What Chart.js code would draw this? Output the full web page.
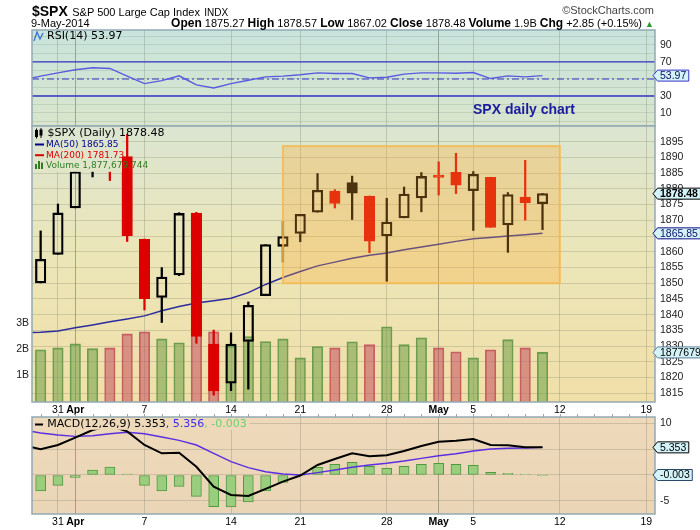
<!DOCTYPE html>
<html><head><meta charset="utf-8">
<script src="https://cdn.jsdelivr.net/npm/chart.js@4.4.1/dist/chart.umd.min.js"></script>
<style>
html,body{margin:0;padding:0;background:#fff}
body{width:700px;height:530px;position:relative;overflow:hidden;font-family:'Liberation Sans',Arial,sans-serif;color:#000}
.layer{position:absolute;left:0;top:0;width:700px;height:530px}
.hdr{position:absolute;white-space:nowrap;line-height:1}
</style></head><body>
<div class="layer"><canvas id="rsiC" width="700" height="530"></canvas></div>
<div class="layer"><canvas id="priceC" width="700" height="530"></canvas></div>
<div class="layer"><canvas id="macdC" width="700" height="530"></canvas></div>
<div class="hdr" style="left:32px;top:3px"><b style="font-size:14px">$SPX</b> <span style="font-size:11px">S&amp;P 500 Large Cap Index</span> <span style="font-size:10px">INDX</span></div>
<div class="hdr" style="right:46px;top:5px;font-size:11px;color:#444">&copy;StockCharts.com</div>
<div class="hdr" style="left:31px;top:18px;font-size:11px">9-May-2014</div>
<div class="hdr" style="right:46px;top:17px;font-size:11px"><b style="font-size:12px">Open</b> 1875.27 <b style="font-size:12px">High</b> 1878.57 <b style="font-size:12px">Low</b> 1867.02 <b style="font-size:12px">Close</b> 1878.48 <b style="font-size:12px">Volume</b> 1.9B <b style="font-size:12px">Chg</b> +2.85 (+0.15%) <span style="color:#2a9a2a;font-size:9px">&#9650;</span></div>
<div class="hdr" style="left:473px;top:102px;font-size:14px;font-weight:bold;color:#1b1b9e">SPX daily chart</div>
<script>
// ---------------- data ----------------
const tradingDays = ['Mar 28','Mar 31','Apr 1','Apr 2','Apr 3','Apr 4','Apr 7','Apr 8','Apr 9','Apr 10','Apr 11','Apr 14','Apr 15','Apr 16','Apr 17','Apr 21','Apr 22','Apr 23','Apr 24','Apr 25','Apr 28','Apr 29','Apr 30','May 1','May 2','May 5','May 6','May 7','May 8','May 9'];
const priorClose = 1849.04;
const opens  = [1850.07,1859.16,1873.96,1886.61,1891.43,1890.25,1863.92,1845.48,1852.64,1872.28,1830.65,1818.18,1831.45,1846.01,1861.73,1865.79,1872.57,1879.32,1881.97,1877.72,1865.00,1870.78,1877.10,1884.39,1885.30,1879.45,1883.69,1868.53,1877.39,1875.27];
const highs  = [1866.63,1875.18,1885.84,1893.17,1893.80,1897.28,1864.04,1854.95,1872.43,1872.53,1835.07,1834.19,1844.02,1862.31,1869.63,1871.89,1884.89,1879.75,1884.06,1877.72,1877.01,1880.60,1885.20,1888.59,1891.33,1885.51,1883.69,1878.83,1889.07,1878.57];
const lows   = [1850.07,1859.16,1873.96,1883.79,1882.65,1863.26,1841.48,1837.49,1852.38,1830.87,1814.36,1815.80,1816.29,1846.01,1856.72,1863.18,1872.57,1873.91,1870.24,1859.70,1850.61,1870.78,1872.69,1878.04,1878.50,1866.77,1867.72,1859.79,1870.05,1867.02];
const closes = [1857.62,1872.34,1885.52,1890.90,1888.77,1865.09,1845.04,1851.96,1872.18,1833.08,1815.69,1830.61,1842.98,1862.31,1864.85,1871.89,1879.55,1875.39,1878.61,1863.40,1869.43,1878.33,1883.95,1883.68,1881.14,1884.66,1867.72,1878.21,1875.63,1878.48];
const volumeB = [1.98,2.05,2.20,2.02,2.05,2.58,2.66,2.39,2.24,2.85,2.66,2.11,2.48,2.29,2.39,1.67,2.10,2.05,2.28,2.17,2.85,2.17,2.43,2.05,1.90,1.67,1.98,2.36,2.05,1.877679744];
// line series start one session earlier (Mar 27) so they run in from the left edge
const lineDays = ['Mar 27'].concat(tradingDays);
const ma50 = [1834.2,1834.4,1834.8,1835.8,1836.7,1837.7,1838.6,1839.6,1841.2,1842.6,1843.7,1844.4,1845.2,1847.0,1849.6,1851.8,1853.7,1855.5,1856.7,1857.9,1858.9,1859.6,1860.6,1861.5,1862.4,1863.3,1864.1,1864.5,1865.0,1865.4,1865.85];
const rsi14 = [49.1,53.3,57.2,60.8,63.2,62.4,53.3,44.6,48.1,53.7,43.0,39.4,44.6,48.5,52.5,53.3,54.9,57.2,56.4,56.4,51.3,52.1,55.7,57.2,57.2,56.8,57.6,50.5,53.7,52.5,53.97];
const macdLine = [5.81,4.98,5.81,7.23,8.72,9.55,8.46,5.81,4.20,4.33,1.60,-2.26,-3.88,-4.07,-2.70,-1.29,-0.10,1.94,3.10,4.20,3.62,3.81,4.65,5.62,6.46,6.65,6.98,5.81,5.75,5.37,5.353];
const signalLine = [8.70,8.14,7.75,7.49,7.62,8.00,8.27,8.00,7.36,6.72,5.81,4.20,2.58,1.42,0.64,0.19,0.00,0.45,0.97,1.49,1.94,2.27,2.71,3.23,3.74,4.13,4.65,5.04,5.17,5.23,5.356];
const macdHist = [-3.10,-2.00,-0.45,0.97,1.55,0.19,-2.00,-3.10,-2.20,-4.13,-6.14,-6.20,-5.23,-3.10,-1.45,-0.10,1.49,2.07,2.46,1.68,1.29,1.68,2.07,2.26,2.07,1.87,0.52,0.32,0.06,-0.003];
const tickIdx = [1,2,6,11,15,20,23,25,30,35];
const tickLabels = ['31','Apr','7','14','21','28','May','5','12','19'];
const monthLabels = ['Apr','May'];
const priceTicks = [1815,1820,1825,1830,1835,1840,1845,1850,1855,1860,1865,1870,1875,1880,1885,1890,1895];
const volumeTicks = [1,2,3];
const rsiTicks = [0,10,20,30,40,50,60,70,80,90,100];
const rsiLabelled = [10,30,50,70,90];
const macdTicks = [-5,0,5,10];
const macdLabelled = [-5,0,5,10];
const boxRange = {fromIdx:14, toIdx:30, low:1850, high:1893.6};

// ---------------- helpers ----------------
const sessions = tradingDays.map((_, i) => i);
const linePts = vals => vals.map((v, i) => ({x: i - 1, y: v}));
const upDay = closes.map((c, i) => c >= (i ? closes[i - 1] : priorClose));
const candleColor = upDay.map(u => u ? '#000000' : '#dd0000');
const hollow = closes.map((c, i) => c > opens[i]);
const AX_FONT = 'Liberation Sans';
const LEG_FONT = '"DejaVu Sans"';
const panelBorder = '#93a9b3';

function xScale(showLabels, height) {
  return {
    type: 'linear', min: -0.5, max: 35.5, offset: false,
    afterBuildTicks: s => { s.ticks = tickIdx.map(v => ({value: v})); },
    afterFit: s => { s.height = height; },
    ticks: {
      display: showLabels, autoSkip: false, maxRotation: 0, minRotation: 0, padding: 2, color: '#000',
      font: c => ({family: AX_FONT, size: 10.5,
        weight: (c.tick && monthLabels.includes(tickLabels[tickIdx.indexOf(c.tick.value)])) ? 'bold' : 'normal'}),
      callback: v => tickLabels[tickIdx.indexOf(v)]
    },
    grid: {
      offset: false, drawTicks: false, lineWidth: 1,
      color: c => (c.tick && monthLabels.includes(tickLabels[tickIdx.indexOf(c.tick.value)])) ? 'rgba(105,115,95,0.55)' : 'rgba(125,135,115,0.33)'
    },
    border: {display: false}
  };
}
function yScale(pos, min, max, ticks, labelFn, gridColor, width) {
  return {
    type: 'linear', position: pos, min, max, beginAtZero: false,
    afterBuildTicks: s => { s.ticks = ticks.map(v => ({value: v})); },
    afterFit: s => { s.width = width; },
    ticks: {autoSkip: false, padding: pos === 'right' ? 5 : 3, color: '#222',
      font: {family: AX_FONT, size: 10.5}, callback: labelFn},
    grid: {drawTicks: false, color: gridColor, lineWidth: 1, display: !!gridColor},
    border: {display: false}
  };
}
function grad(ctx, a, stops) {
  const g = ctx.createLinearGradient(0, a.top, 0, a.bottom);
  stops.forEach(s => g.addColorStop(s[0], s[1]));
  return g;
}
function drawCallout(ctx, y, c) {
  ctx.save();
  ctx.font = c.font || ('10.5px "' + AX_FONT + '"');
  const w = ctx.measureText(c.text).width;
  const tip = 653, x1 = 657.5, h = 11, x2 = x1 + w + 5;
  ctx.beginPath();
  ctx.moveTo(tip, y); ctx.lineTo(x1, y - h / 2); ctx.lineTo(x2, y - h / 2);
  ctx.lineTo(x2, y + h / 2); ctx.lineTo(x1, y + h / 2); ctx.closePath();
  ctx.fillStyle = '#d3f3f8'; ctx.fill();
  ctx.lineWidth = 1; ctx.strokeStyle = c.border; ctx.stroke();
  ctx.fillStyle = c.color || '#000'; ctx.textBaseline = 'middle'; ctx.textAlign = 'left';
  ctx.fillText(c.text, x1 + 2.5, y + 0.5);
  ctx.restore();
}
function makePanel(cfg) {
  return {
    id: 'panel' + cfg.name,
    beforeDraw(chart) {
      const {ctx, chartArea: a} = chart;
      ctx.save();
      ctx.fillStyle = grad(ctx, a, cfg.stops);
      ctx.fillRect(a.left, a.top, a.right - a.left, a.bottom - a.top);
      ctx.restore();
    },
    afterDatasetsDraw(chart) { if (cfg.overlay) cfg.overlay(chart); },
    afterDraw(chart) {
      const {ctx, chartArea: a} = chart;
      ctx.save();
      ctx.strokeStyle = panelBorder; ctx.lineWidth = 1.5;
      ctx.strokeRect(a.left, a.top, a.right - a.left, a.bottom - a.top);
      ctx.restore();
      if (cfg.after) cfg.after(chart);
      (cfg.callouts || []).forEach(c => drawCallout(ctx, chart.scales[c.axis].getPixelForValue(c.value), c));
    }
  };
}
const baseOpts = (padding) => ({
  responsive: false, animation: false, events: [],
  layout: {padding},
  plugins: {legend: {display: false}, tooltip: {enabled: false}}
});

// ---------------- RSI panel ----------------
const rsiStops = [[0, '#c8e4dd'], [1, '#d9e5cc']];
new Chart(document.getElementById('rsiC'), {
  type: 'line',
  data: {datasets: [
    {data: linePts(rsi14), borderColor: '#5a5ae0', borderWidth: 1.4, pointRadius: 0, tension: 0},
    {data: [{x: -0.5, y: 70}, {x: 35.5, y: 70}], borderColor: '#3434c4', borderWidth: 1.3, pointRadius: 0},
    {data: [{x: -0.5, y: 30}, {x: 35.5, y: 30}], borderColor: '#3434c4', borderWidth: 1.3, pointRadius: 0},
    {data: [{x: -0.5, y: 50}, {x: 35.5, y: 50}], borderColor: '#3434c4', borderWidth: 1.2, borderDash: [7, 3, 2, 3], pointRadius: 0}
  ]},
  options: Object.assign(baseOpts({top: 30, bottom: 404, left: 32, right: 0}), {
    scales: {
      x: xScale(false, 0),
      y: yScale('right', -5.3, 107.6, rsiTicks, v => rsiLabelled.includes(v) && v !== 50 ? String(v) : '', 'rgba(120,140,120,0.22)', 45)
    }
  }),
  plugins: [makePanel({
    name: 'rsi', stops: rsiStops,
    after(chart) {
      const ctx = chart.ctx;
      ctx.save();
      ctx.strokeStyle = '#3a6fd8'; ctx.lineWidth = 1.3;
      ctx.beginPath(); ctx.moveTo(34, 41); ctx.lineTo(37, 32); ctx.lineTo(40, 39); ctx.lineTo(43, 33); ctx.stroke();
      ctx.font = '11px ' + LEG_FONT; ctx.fillStyle = '#000'; ctx.textBaseline = 'middle';
      ctx.fillText('RSI(14) 53.97', 47, 36.5);
      ctx.restore();
    },
    callouts: [{axis: 'y', value: 53.97, text: '53.97', border: '#3434c4', color: '#101060'}]
  })]
});

// ---------------- Price panel ----------------
const priceStops = [[0, '#dbe5d1'], [0.45, '#ebe6b9'], [1, '#f1dfa8']];
new Chart(document.getElementById('priceC'), {
  type: 'bar',
  data: {datasets: [
    {type: 'bar', yAxisID: 'yv', order: 10, grouped: false, barThickness: 10.5,
      data: sessions.map(i => ({x: i, y: volumeB[i]})),
      backgroundColor: upDay.map(u => u ? 'rgba(112,160,72,0.55)' : 'rgba(195,80,95,0.55)'),
      borderColor: upDay.map(u => u ? 'rgba(95,150,70,0.9)' : 'rgba(195,75,85,0.85)'),
      borderWidth: {top: 1.2, left: 1, right: 1, bottom: 0}, borderSkipped: false},
    {type: 'line', yAxisID: 'y', order: 5, data: linePts(ma50), borderColor: '#2c2c9e', borderWidth: 1.5, pointRadius: 0},
    {type: 'bar', yAxisID: 'y', order: 3, grouped: false, barThickness: 1.6,
      data: sessions.map(i => ({x: i, y: [lows[i], Math.min(opens[i], closes[i])]})),
      backgroundColor: candleColor, borderWidth: 0},
    {type: 'bar', yAxisID: 'y', order: 3, grouped: false, barThickness: 1.6,
      data: sessions.map(i => ({x: i, y: [Math.max(opens[i], closes[i]), highs[i]]})),
      backgroundColor: candleColor, borderWidth: 0},
    {type: 'bar', yAxisID: 'y', order: 1, grouped: false, barThickness: 10.5,
      data: sessions.map(i => ({x: i, y: [opens[i], closes[i]]})),
      backgroundColor: sessions.map(i => hollow[i] ? 'rgba(0,0,0,0)' : candleColor[i]),
      borderColor: candleColor, borderWidth: 1.6, borderSkipped: false}
  ]},
  options: Object.assign(baseOpts({top: 126, bottom: 114, left: 0, right: 0}), {
    scales: {
      x: xScale(true, 14),
      y: yScale('right', 1812.2, 1900, priceTicks, v => String(v), 'rgba(130,130,100,0.28)', 45),
      yv: yScale('left', 0, 10.45, volumeTicks, v => v + 'B', null, 32)
    }
  }),
  plugins: [makePanel({
    name: 'price', stops: priceStops,
    overlay(chart) {
      const {ctx, scales: {x, y}, chartArea: a} = chart;
      // highlighted consolidation box
      const bx1 = x.getPixelForValue(boxRange.fromIdx), bx2 = x.getPixelForValue(boxRange.toIdx);
      const by1 = y.getPixelForValue(boxRange.high), by2 = y.getPixelForValue(boxRange.low);
      ctx.save();
      ctx.fillStyle = 'rgba(252,168,45,0.30)';
      ctx.fillRect(bx1, by1, bx2 - bx1, by2 - by1);
      ctx.strokeStyle = 'rgba(246,184,80,0.85)'; ctx.lineWidth = 2;
      ctx.strokeRect(bx1, by1, bx2 - bx1, by2 - by1);
      // legend block
      ctx.fillStyle = grad(ctx, a, priceStops);
      ctx.fillRect(a.left + 0.8, a.top + 0.8, 89, 45);
      ctx.textBaseline = 'middle';
      // candle icon
      ctx.fillStyle = '#000';
      ctx.fillRect(35, 130, 3, 7); ctx.fillRect(36, 128.5, 1, 10);
      ctx.fillRect(39.5, 129.5, 3, 6); ctx.fillRect(40.5, 128, 1, 10);
      ctx.font = '11px ' + LEG_FONT; ctx.fillStyle = '#000';
      ctx.fillText('$SPX (Daily) 1878.48', 47.5, 133.5);
      ctx.font = '9px ' + LEG_FONT;
      ctx.fillStyle = '#00008b'; ctx.fillRect(35, 143.5, 9, 2);
      ctx.fillText('MA(50) 1865.85', 46, 144.5);
      ctx.fillStyle = '#dd0000'; ctx.fillRect(35, 154.2, 9, 2);
      ctx.fillText('MA(200) 1781.73', 46, 155.2);
      ctx.fillStyle = '#2f7d22';
      ctx.fillRect(35, 164, 2, 5); ctx.fillRect(38, 161, 2, 8); ctx.fillRect(41, 162.5, 2, 6.5);
      ctx.fillText('Volume 1,877,679,744', 46, 165.8);
      ctx.restore();
    },
    callouts: [
      {axis: 'y', value: 1878.48, text: '1878.48', border: '#000', color: '#000', font: 'bold 10.5px "Liberation Sans"'},
      {axis: 'y', value: 1865.85, text: '1865.85', border: '#10108a', color: '#10106a'},
      {axis: 'yv', value: volumeB[volumeB.length - 1], text: '1877679744', border: '#5d7f99', color: '#000'}
    ]
  })]
});

// ---------------- MACD panel ----------------
const macdStops = [[0, '#eed9ba'], [1, '#ebd5b7']];
new Chart(document.getElementById('macdC'), {
  type: 'bar',
  data: {datasets: [
    {type: 'bar', order: 10, grouped: false, barThickness: 10,
      data: sessions.map(i => ({x: i, y: macdHist[i]})),
      backgroundColor: '#9acd7e', borderColor: '#4f9a3f', borderWidth: 1, borderSkipped: false},
    {type: 'line', order: 3, data: linePts(signalLine), borderColor: '#5b2fe0', borderWidth: 1.4, pointRadius: 0},
    {type: 'line', order: 1, data: linePts(macdLine), borderColor: '#000', borderWidth: 2, pointRadius: 0}
  ]},
  options: Object.assign(baseOpts({top: 417, bottom: 0, left: 32, right: 0}), {
    scales: {
      x: xScale(true, 16),
      y: yScale('right', -7.56, 11.24, macdTicks, v => macdLabelled.includes(v) ? String(v) : '', 'rgba(130,130,110,0.3)', 45)
    }
  }),
  plugins: [makePanel({
    name: 'macd', stops: macdStops,
    overlay(chart) {
      const {ctx, chartArea: a} = chart;
      ctx.save();
      ctx.font = '11px ' + LEG_FONT;
      const t1 = 'MACD(12,26,9) 5.353', t2 = ', 5.356', t3 = ', -0.003';
      const w1 = ctx.measureText(t1).width, w2 = ctx.measureText(t2).width, w3 = ctx.measureText(t3).width;
      ctx.fillStyle = grad(ctx, a, macdStops);
      ctx.fillRect(a.left + 0.8, a.top + 0.8, 15 + w1 + w2 + w3 + 2, 12);
      ctx.fillStyle = '#000'; ctx.fillRect(35, 423.5, 8, 2);
      ctx.textBaseline = 'middle';
      ctx.fillText(t1, 47.3, 424.5);
      ctx.fillStyle = '#3a2cf0'; ctx.fillText(t2, 47.3 + w1, 424.5);
      ctx.fillStyle = '#6fcf6f'; ctx.fillText(t3, 47.3 + w1 + w2, 424.5);
      ctx.restore();
    },
    after(chart) {
      const {ctx, scales: {x}, chartArea: a} = chart;
      ctx.save();
      ctx.strokeStyle = panelBorder; ctx.lineWidth = 1;
      for (let i = 0; i <= 35; i++) {
        const px = Math.round(x.getPixelForValue(i)) + 0.5;
        ctx.beginPath(); ctx.moveTo(px, a.top - 3); ctx.lineTo(px, a.top); ctx.stroke();
      }
      ctx.restore();
    },
    callouts: [
      {axis: 'y', value: 5.353, text: '5.353', border: '#000', color: '#000'},
      {axis: 'y', value: -0.003, text: '-0.003', border: '#2a4a6a', color: '#000'}
    ]
  })]
});
</script>
</body></html>
